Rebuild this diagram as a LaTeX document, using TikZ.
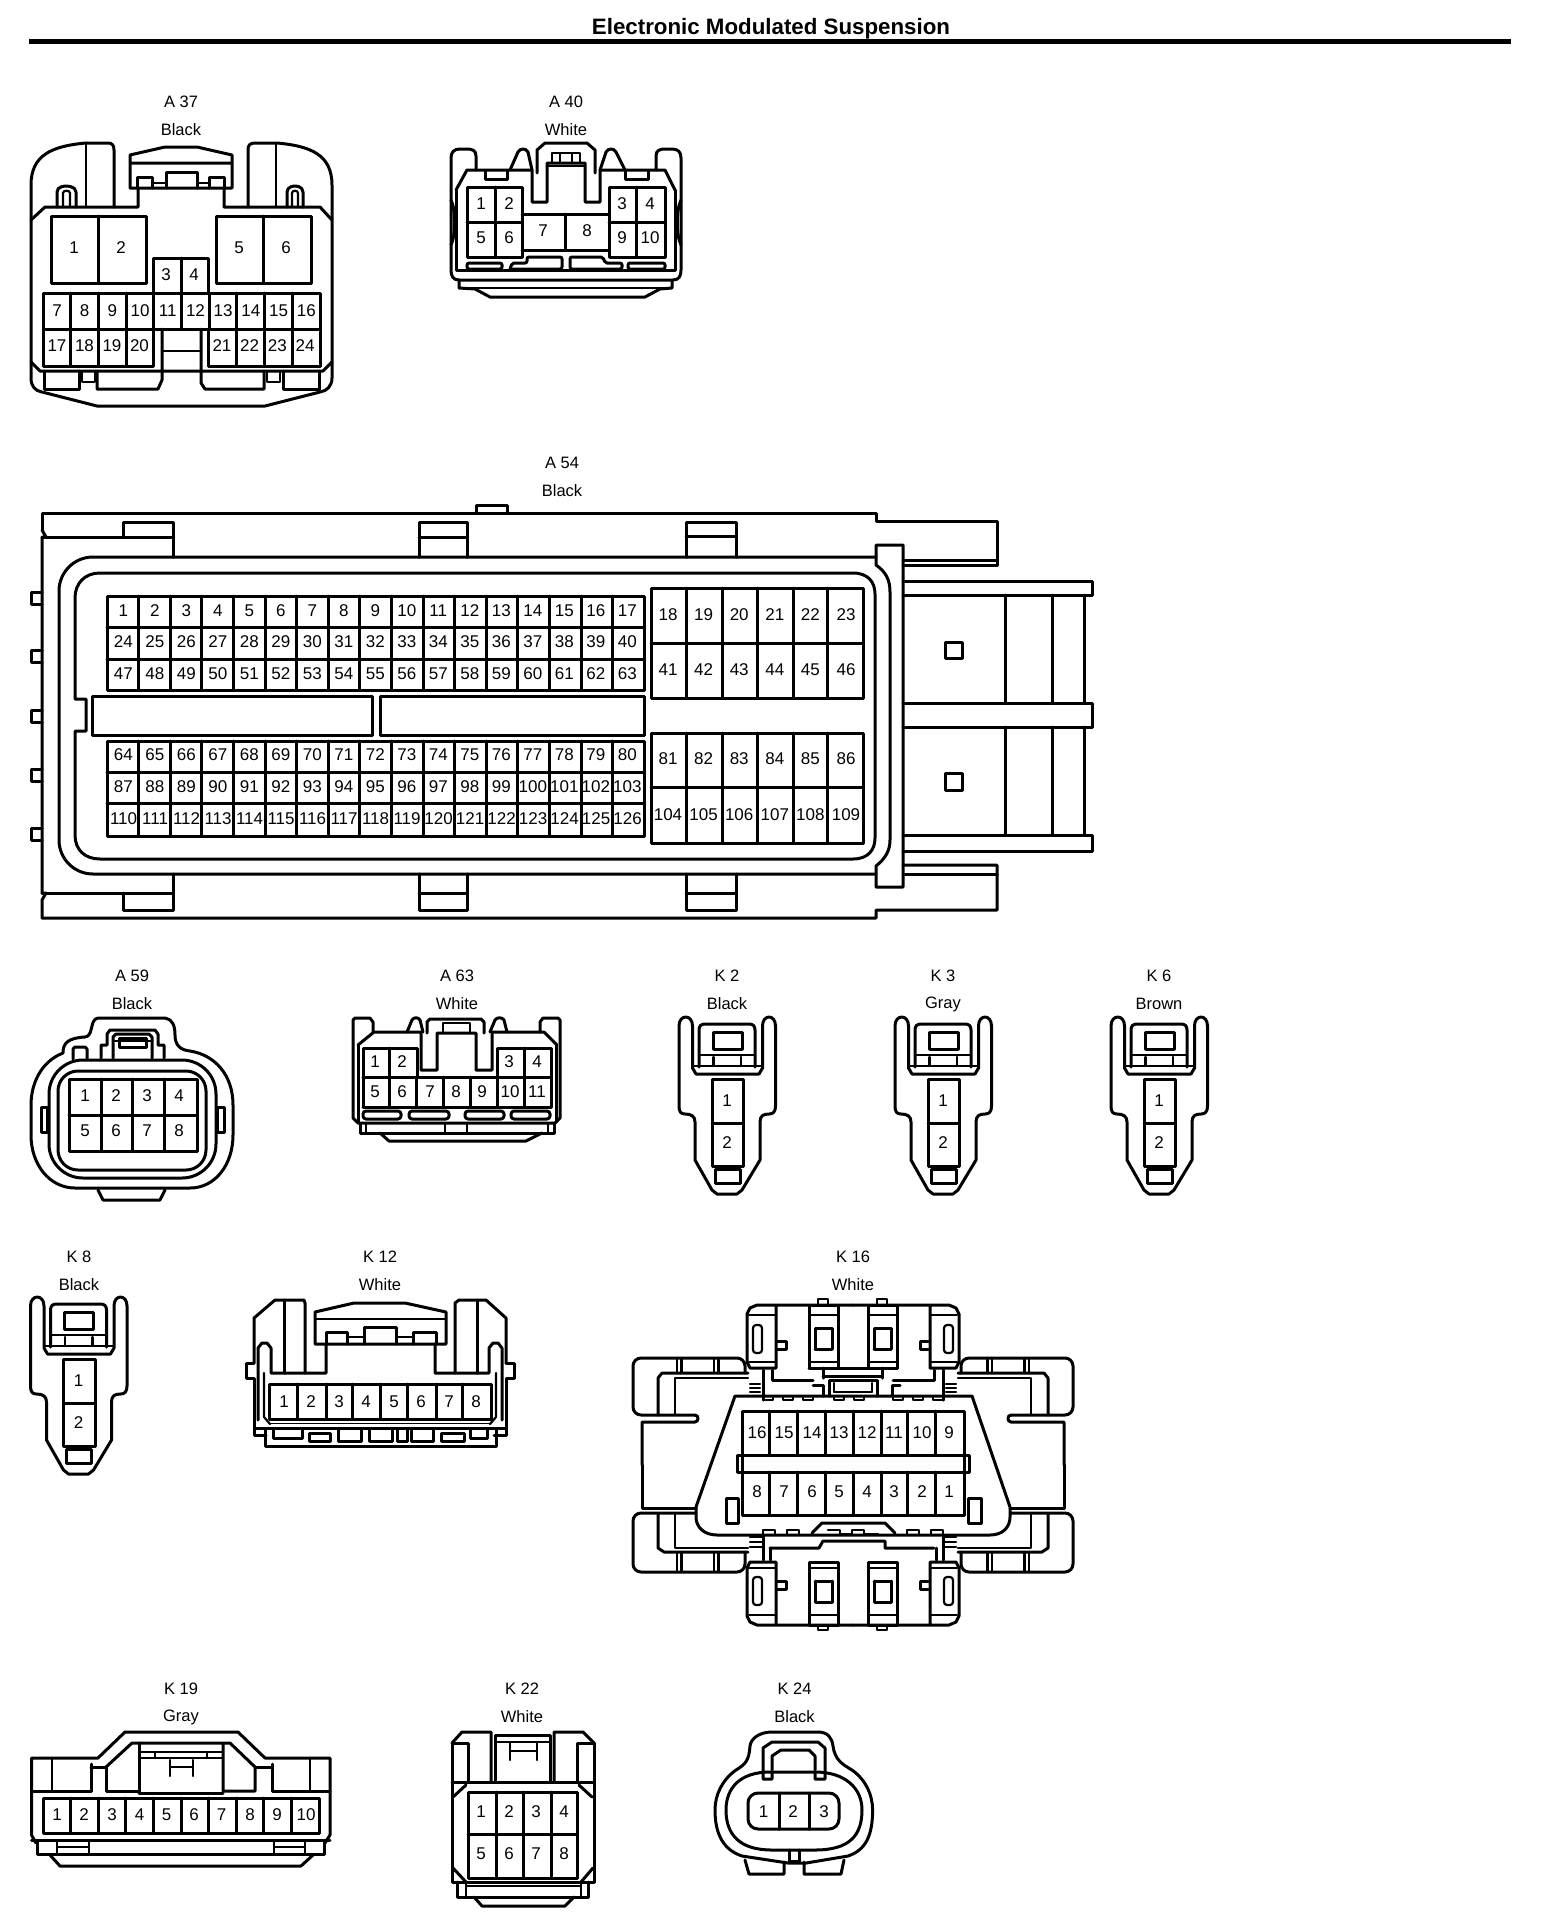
\documentclass[tikz,border=0pt]{standalone}
\usepackage{fontspec}
\setmainfont{Liberation Sans}
\newcount\lblc
\tikzset{
  pintxt/.style={inner sep=0pt,font=\fontsize{17}{17}\selectfont},
  captxt/.style={inner sep=0pt,font=\fontsize{16.5}{17}\selectfont},
  titletxt/.style={inner sep=0pt,font=\fontsize{22.3}{24}\selectfont\bfseries},
  thinln/.style={line width=2.2pt},
  hairln/.style={line width=1.5pt},
  fat/.style={line width=5pt}
}
\newcommand{\PP}[3]{\node[pintxt] (p\the\lblc) at (#1,#2) {#3};\global\advance\lblc by 1 }
\newcommand{\CAP}[4]{\node[captxt] (c\the\lblc) at (#1,#2) {#3};\global\advance\lblc by 1
  \node[captxt] (c\the\lblc) at (#1,#2+28) {#4};\global\advance\lblc by 1 }
\newcommand{\twopin}{%
  \draw (-48,1026) .. controls (-48,1014) and (-34.5,1014) .. (-34.5,1026) -- (-34.5,1068) -- (-31,1074) -- (32,1074) -- (35.5,1068) -- (35.5,1026)
     .. controls (35.5,1014) and (48.5,1014) .. (48.5,1026) -- (48.5,1106) .. controls (48.5,1112) and (46,1114) .. (42,1114)
     .. controls (36,1114) and (33,1116) .. (33,1122) -- (33,1160) -- (15,1190) -- (10,1194) -- (-10,1194) -- (-15,1190) -- (-32,1160) -- (-32,1122)
     .. controls (-32,1116) and (-36,1114) .. (-42,1114) .. controls (-46,1114) and (-48,1112) .. (-48,1106) -- cycle;
  \draw (-28,1067) -- (-28,1030) .. controls (-28,1026) and (-26,1024) .. (-22,1024) -- (22,1024) .. controls (26,1024) and (28,1026) .. (28,1030) -- (28,1067);
  \draw (-14,1032) rectangle (15,1049);
  \draw[thinln] (-28,1055) -- (28,1055) (-34,1066) -- (35,1066) (-13.5,1057) -- (-13.5,1065) (14,1057) -- (14,1065);
  \draw (-15,1079) rectangle (16.5,1166) (-15,1123) -- (16.5,1123);
  \draw (-12,1169) rectangle (13,1183);
  \PP{0}{1101}{1}\PP{0}{1143}{2}
}
\newcommand{\khalf}{%
  \draw (853,1305) -- (757,1305) -- (750,1308) -- (747,1314) -- (747,1362) -- (750,1368) -- (776,1368) -- (776,1305);
  \draw[thinln] (749,1315) -- (776,1315) (749,1362) -- (776,1362);
  \draw[thinln,rounded corners=3pt] (753,1325) rectangle (762,1353);
  \draw (777,1341) -- (786,1341) -- (786,1349) -- (777,1349);
  \draw (809,1305) rectangle (838,1368);
  \draw[thinln] (809,1315) -- (838,1315) (809,1362) -- (838,1362);
  \draw (815,1349) -- (815,1328) -- (832,1328) -- (832,1349) (815,1349) -- (832,1349);
}
\newcommand{\kwing}{%
  \draw[rounded corners=8pt] (745,1373) -- (745,1358) -- (633,1358) -- (633,1415) -- (695,1415);
  \draw (695,1415) .. controls (699,1415) and (699,1422) .. (695,1422) -- (642,1422) -- (642,1465);
  \draw[thinln] (677,1358) -- (677,1373) (681.5,1358) -- (681.5,1373) (714,1358) -- (714,1373) (718.5,1358) -- (718.5,1373);
  \draw (658,1415) -- (658,1378) -- (662,1373) -- (748,1373);
  \draw[thinln] (675,1415) -- (675,1378) -- (748,1378);
  \draw[thinln] (750,1384) -- (760,1384) (750,1388) -- (760,1388) (750,1392) -- (760,1392) (750,1396) -- (760,1396);
  \draw (763,1370) -- (763,1400);
  \draw (772,1370) -- (772,1380) -- (813,1380);
}
\begin{document}
\begin{tikzpicture}[x=1pt,y=-1pt,line width=3pt,line join=round,line cap=round]
\useasboundingbox (0,0) rectangle (1568,1920);
\fill[white] (0,0) rectangle (1568,1920);
% title
\node[titletxt] (title) at (780.5,29) {\hspace{-19pt}Electronic Modulated Suspension};
\draw[fat,line cap=butt] (29,41.5) -- (1511,41.5);

% ---------- A37
\CAP{181}{102}{A 37}{Black}
\draw (86,143) .. controls (52,146) and (31,155) .. (31,185) -- (31,378) .. controls (31,386) and (35,391) .. (42,392) -- (97,406) -- (265,406) -- (320,392) .. controls (327,391) and (332,386) .. (332,378) -- (332,185) .. controls (332,155) and (311,146) .. (277,143) -- (255,143) .. controls (250,143) and (248,145) .. (248,150) -- (248,207);
\draw (86,143) -- (108,143) .. controls (112,143) and (114,145) .. (114,150) -- (114,207);
\draw[thinln] (86,143) -- (86,207) (276,143) -- (276,207);
\draw (31,220) -- (45,207) -- (138,207) -- (138,188);
\draw (224,188) -- (224,207) -- (320,207) -- (332,220);
\draw (57,207) -- (57,192) .. controls (57,186) and (66,186) .. (66,186) .. controls (66,186) and (76,186) .. (76,192) -- (76,207);
\draw[thinln] (63,207) -- (63,193) .. controls (63,190) and (70,190) .. (70,193) -- (70,207);
\draw (287,207) -- (287,192) .. controls (287,186) and (295,186) .. (295,186) .. controls (295,186) and (303,186) .. (303,192) -- (303,207);
\draw[thinln] (292,207) -- (292,193) .. controls (292,190) and (298,190) .. (298,193) -- (298,207);
\draw (130,155) -- (165,147) -- (197,147) -- (232,155) -- (232,188) -- (130,188) -- cycle (130,163) -- (232,163);
\draw (137,188) -- (137,177) -- (152,177) -- (152,188) (209,188) -- (209,177) -- (224,177) -- (224,188);
\draw (166,188) -- (166,172) -- (197,172) -- (197,188);
\draw[thinln] (152,183) -- (166,183) (197,183) -- (209,183);
\draw (51,216) rectangle (146,283) (98,216) -- (98,283);
\draw (216,216) rectangle (311,283) (263,216) -- (263,283);
\draw (153,293) -- (153,258) -- (208,258) -- (208,293) (181,258) -- (181,293);
\PP{74}{248}{1}\PP{121}{248}{2}\PP{239}{248}{5}\PP{286}{248}{6}\PP{166}{275}{3}\PP{194}{275}{4}
\draw (43,293) rectangle (320,329);
\foreach \i in {1,...,9}{\draw (43+27.7*\i,293) -- (43+27.7*\i,329);}
\foreach \n [count=\i from 0] in {7,...,16}{\PP{57+27.7*\i}{311}{\n}}
\draw (43,329) -- (43,366) -- (153,366) -- (153,329);
\draw (208,329) -- (208,366) -- (320,366) -- (320,329);
\foreach \i in {1,2,3}{\draw (43+27.7*\i,329) -- (43+27.7*\i,366); \draw (208+28*\i,329) -- (208+28*\i,366);}
\foreach \n [count=\i from 0] in {17,18,19,20}{\PP{57+27.5*\i}{346}{\n}}
\foreach \n [count=\i from 0] in {21,22,23,24}{\PP{222+27.7*\i}{346}{\n}}
\draw (162,329) -- (162,380) -- (158,389) -- (97,389) -- (97,371);
\draw (201,329) -- (201,383) -- (205,389) -- (264,389) -- (264,371);
\draw[thinln] (162,351) -- (201,351);
\draw (31,362) -- (40,371) -- (323,371) -- (332,362);
\draw (44,371) -- (44,389) -- (79,389) -- (79,371) (319,371) -- (319,389) -- (283,389) -- (283,371);
\draw[thinln] (82,371) -- (82,382) -- (95,382) -- (95,371) (267,371) -- (267,382) -- (280,382) -- (280,371);

% ---------- A40
\CAP{566}{102}{A 40}{White}
\draw (476,170) -- (476,156) .. controls (476,150) and (472,149) .. (466,149) -- (460,149) .. controls (454,149) and (451,152) .. (451,158) -- (451,270) .. controls (451,276) and (453,280) .. (459,280) -- (673,280) .. controls (679,280) and (681,276) .. (681,270) -- (681,158) .. controls (681,152) and (678,149) .. (672,149) -- (666,149) .. controls (660,149) and (656,150) .. (656,156) -- (656,170);
\draw (459,280) -- (459,288) -- (475,289) -- (490,297) -- (645,297) -- (660,289) -- (672,288) -- (672,280);
\draw[thinln] (459,288) -- (672,288);
\draw (537,173) -- (537,150) -- (545,143) -- (587,143) -- (595,150) -- (595,173);
\draw (510,170) -- (518,152) .. controls (520,148) and (526,148) .. (528,152) -- (532,170);
\draw (600,170) -- (606,152) .. controls (608,148) and (614,148) .. (616,152) -- (625,170);
\draw (456,190) -- (467,170) -- (532,170) -- (532,202) -- (547,202) -- (547,163) -- (585,163) -- (585,202) -- (600,202) -- (600,170) -- (665,170) -- (675,190);
\draw (456,190) -- (456,270) -- (675,270) -- (675,190);
\draw[thinln] (552,163) -- (552,153) -- (580,153) -- (580,163) (560,153) -- (560,163) (572,153) -- (572,163) (547,166) -- (585,166);
\draw (485,171) -- (485,179) -- (507,179) -- (507,171) (625,171) -- (625,179) -- (648,179) -- (648,171);
\draw (451,200) .. controls (456,210) and (456,235) .. (451,245) (681,200) .. controls (676,210) and (676,235) .. (681,245);
\draw (467,187) rectangle (522,257) (495,187) -- (495,257) (467,222) -- (522,222);
\draw (522,214) -- (609,214) (522,250) -- (609,250) (565,214) -- (565,250);
\draw (609,187) rectangle (665,257) (636,187) -- (636,257) (609,222) -- (665,222);
\PP{481}{204}{1}\PP{509}{204}{2}\PP{622}{204}{3}\PP{650}{204}{4}
\PP{481}{238}{5}\PP{509}{238}{6}\PP{543}{231}{7}\PP{587}{231}{8}\PP{622}{238}{9}\PP{650}{238}{10}
\draw[rounded corners=2pt] (467,263) rectangle (502,269);
\draw[rounded corners=2pt] (628,263) rectangle (665,269);
\draw[rounded corners=2pt] (510,269) -- (555,269) -- (562,269) -- (562,257) -- (527,257) -- (527,263) -- (512,263) -- (510,269);
\draw[rounded corners=2pt] (570,257) -- (570,269) -- (622,269) -- (622,263) -- (605,263) -- (603,257) -- cycle;

% ---------- A54
\CAP{562}{463}{A 54}{Black}
\draw (476,513) -- (476,505) -- (507,505) -- (507,513);
\draw (42,530) -- (42,513) -- (876,513) -- (876,521) -- (997,521) -- (997,565) -- (903,565);
\draw (903,560) -- (997,560);
\draw (42,530) -- (46,537) -- (42,537) -- (42,893) -- (46,893) -- (42,900) -- (42,918) -- (876,918) -- (876,910) -- (997,910) -- (997,865) -- (903,865);
\draw (903,874) -- (997,874);
\draw (42,537) -- (172,537) (42,893) -- (172,893);
\draw (123,537) -- (123,522) -- (173,522) -- (173,557);
\draw (419,557) -- (419,522) -- (467,522) -- (467,557) (419,537) -- (467,537);
\draw (686,557) -- (686,522) -- (736,522) -- (736,557) (686,536) -- (736,536);
\draw (123,893) -- (123,910) -- (173,910) -- (173,874);
\draw (419,874) -- (419,910) -- (467,910) -- (467,874) (419,893) -- (467,893);
\draw (686,874) -- (686,910) -- (736,910) -- (736,874) (686,893) -- (736,893);
\draw[rounded corners=34pt] (876,557) -- (59,557) -- (59,874) -- (876,874);
\draw (876,545) -- (876,565) .. controls (886,572) and (890,580) .. (890,592) -- (890,840) .. controls (890,850) and (886,858) .. (876,866) -- (876,887) -- (903,887) -- (903,545) -- cycle;
\draw (853,573) -- (100,573) .. controls (85,573) and (75,583) .. (75,598) -- (75,699) -- (86,699) -- (86,731) -- (75,731) -- (75,835) .. controls (75,850) and (85,859) .. (100,859) -- (853,859) .. controls (868,859) and (875,850) .. (875,838) -- (875,594) .. controls (875,582) and (868,573) .. (853,573) -- cycle;
\foreach \a in {592,650,710,769,828}{\draw (42,\a) -- (31,\a) -- (31,\a+12) -- (42,\a+12);}
\draw (92,696) rectangle (372,735) (380,696) rectangle (644,735);
\draw (107,596) rectangle (644,690) (107,627) -- (644,627) (107,659) -- (644,659);
\draw (107,741) rectangle (644,836) (107,772) -- (644,772) (107,803) -- (644,803);
\foreach \i in {1,...,16}{\draw (107+31.6*\i,596) -- (107+31.6*\i,690) (107+31.6*\i,741) -- (107+31.6*\i,836);}
\foreach \n [count=\i from 0] in {1,...,17}{\PP{123.3+31.5*\i}{611}{\n}}
\foreach \n [count=\i from 0] in {24,...,40}{\PP{123.3+31.5*\i}{642}{\n}}
\foreach \n [count=\i from 0] in {47,...,63}{\PP{123.3+31.5*\i}{674}{\n}}
\foreach \n [count=\i from 0] in {64,...,80}{\PP{123.3+31.5*\i}{755}{\n}}
\foreach \n [count=\i from 0] in {87,...,103}{\PP{123.3+31.5*\i}{787}{\n}}
\foreach \n [count=\i from 0] in {110,...,126}{\PP{123.6+31.5*\i}{819}{\n}}
\draw (651,588) rectangle (863,698) (651,643) -- (863,643);
\draw (651,733) rectangle (863,843) (651,787) -- (863,787);
\foreach \a in {686,722,757,793,827}{\draw (\a,588) -- (\a,698) (\a,733) -- (\a,843);}
\foreach \n [count=\i from 0] in {18,...,23}{\PP{668+35.6*\i}{615}{\n}}
\foreach \n [count=\i from 0] in {41,...,46}{\PP{668+35.6*\i}{670}{\n}}
\foreach \n [count=\i from 0] in {81,...,86}{\PP{668+35.6*\i}{759}{\n}}
\foreach \n [count=\i from 0] in {104,...,109}{\PP{668+35.6*\i}{815}{\n}}
\draw (903,581) -- (1092,581) -- (1092,595) -- (903,595);
\draw (903,703) -- (1092,703) -- (1092,727) -- (903,727);
\draw (903,835) -- (1092,835) -- (1092,851) -- (903,851);
\draw (1005,595) -- (1005,703) (1005,727) -- (1005,835);
\draw (1052,595) -- (1052,703) (1052,727) -- (1052,835);
\draw (1084,595) -- (1084,703) (1084,727) -- (1084,835);
\draw (945,642) rectangle (962,658) (945,773) rectangle (962,790);

% ---------- A59
\CAP{132}{976}{A 59}{Black}
\draw (99,1018) -- (165,1018) .. controls (172,1019) and (175,1025) .. (175,1035) .. controls (175,1045) and (180,1050) .. (190,1051) .. controls (215,1055) and (233,1075) .. (233,1105) -- (233,1135) .. controls (233,1165) and (215,1188) .. (190,1188) -- (75,1188) .. controls (50,1188) and (31,1165) .. (31,1135) -- (31,1105) .. controls (31,1085) and (40,1062) .. (63,1053) .. controls (63,1043) and (68,1038) .. (85,1037) .. controls (90,1037) and (91,1030) .. (92,1026) .. controls (93,1020) and (96,1018) .. (99,1018) -- cycle;
\draw[rounded corners=34pt] (49,1060) rectangle (216,1178);
\draw[rounded corners=20pt] (58,1071) rectangle (206,1170);
\draw (69,1079) rectangle (197,1151) (69,1115) -- (197,1115) (101,1079) -- (101,1151) (132,1079) -- (132,1151) (164,1079) -- (164,1151);
\draw (41,1107) rectangle (47,1132) (217,1107) rectangle (224,1132);
\draw (98,1190) -- (103,1200) -- (160,1200) -- (165,1190);
\draw (101,1058) -- (101,1045) -- (107,1045) -- (107,1034) -- (110,1030) -- (155,1030) -- (158,1034) -- (158,1045) -- (164,1045) -- (164,1058);
\draw (113,1058) -- (113,1037) -- (116,1034) -- (149,1034) -- (152,1037) -- (152,1058);
\draw (119,1038) rectangle (146,1047);
\draw[thinln] (113,1041) -- (152,1041);
\draw (73,1059) -- (73,1049) -- (75,1047) -- (85,1047) -- (87,1049) -- (87,1059);
\PP{85}{1096}{1}\PP{116}{1096}{2}\PP{147}{1096}{3}\PP{179}{1096}{4}
\PP{85}{1131}{5}\PP{116}{1131}{6}\PP{147}{1131}{7}\PP{179}{1131}{8}

% ---------- A63
\CAP{457}{976}{A 63}{White}
\draw (353,1020) -- (355,1018) -- (370,1018) -- (373,1022) -- (373,1032);
\draw (353,1020) -- (353,1118) -- (358,1123) -- (555,1123) -- (560,1118) -- (560,1020) -- (558,1018) -- (543,1018) -- (540,1022) -- (540,1032);
\draw (358,1045) -- (374,1032) -- (421,1032) -- (421,1070) -- (437,1070) -- (437,1033) -- (476,1033) -- (476,1070) -- (492,1070) -- (492,1032) -- (544,1032) -- (557,1045);
\draw (358,1045) -- (358,1122) (556,1045) -- (556,1122);
\draw (427,1033) -- (427,1022) -- (430,1019) -- (481,1019) -- (484,1022) -- (484,1033);
\draw[thinln] (443,1033) -- (443,1023) -- (470,1023) -- (470,1033);
\draw (407,1032) -- (412,1020) .. controls (414,1017) and (418,1017) .. (420,1020) -- (423,1032);
\draw (490,1032) -- (495,1020) .. controls (497,1017) and (502,1017) .. (504,1020) -- (507,1032);
\draw (363,1107) -- (363,1048) -- (417,1048) -- (417,1077);
\draw (497,1077) -- (497,1048) -- (551,1048) -- (551,1107) -- (363,1107);
\draw (363,1077) -- (551,1077);
\foreach \a in {389.5,524}{\draw (\a,1048) -- (\a,1107);}
\foreach \a in {416,443.6,470,497}{\draw (\a,1077) -- (\a,1107);}
\PP{375}{1062}{1}\PP{402}{1062}{2}\PP{509}{1062}{3}\PP{537}{1062}{4}
\foreach \n/\a in {5/375,6/402,7/430,8/456,9/482,10/510,11/537}{\PP{\a}{1092}{\n}}
\draw[rounded corners=3pt] (363,1111) rectangle (401,1119) (409,1111) rectangle (449,1119) (465,1111) rectangle (504,1119) (511,1111) rectangle (550,1119);
\draw (360,1124) -- (360,1133) -- (554,1133) -- (554,1124);
\draw[thinln] (366,1124) -- (366,1133) (548,1124) -- (548,1133) (445,1124) -- (445,1133) (467,1124) -- (467,1133);
\draw (380,1133) -- (389,1141) -- (526,1141) -- (542,1133);

% ---------- K2 K3 K6
\CAP{727}{976}{K 2}{Black}
\CAP{943}{976}{K 3}{Gray}
\CAP{1159}{976}{K 6}{Brown}
\begin{scope}[shift={(727,0)}]\twopin\end{scope}
\begin{scope}[shift={(943,0)}]\twopin\end{scope}
\begin{scope}[shift={(1159,0)}]\twopin\end{scope}
% ---------- K8
\CAP{79}{1257}{K 8}{Black}
\begin{scope}[shift={(78.5,280)}]\twopin\end{scope}

% ---------- K12
\CAP{380}{1257}{K 12}{White}
\draw (284,1373) -- (284,1300);
\draw (254,1363) -- (254,1318) -- (275,1300) -- (304,1300) -- (305,1303) -- (305,1373) -- (326,1373) -- (326,1344);
\draw (435,1344) -- (435,1373) -- (455,1373) -- (455,1303) -- (459,1300) -- (486,1300) -- (506,1318) -- (506,1363);
\draw (477,1300) -- (477,1373);
\draw (315,1312) -- (354,1303) -- (405,1303) -- (446,1312) -- (446,1344) -- (315,1344) -- cycle;
\draw[thinln] (315,1319) -- (446,1319);
\draw (326,1344) -- (326,1332) -- (347,1332) -- (347,1344) (364,1344) -- (364,1327) -- (396,1327) -- (396,1344) (413,1344) -- (413,1332) -- (436,1332) -- (436,1344);
\draw[thinln] (347,1337) -- (364,1337) (396,1337) -- (413,1337);
\draw (254,1363) -- (246,1363) -- (246,1378) -- (254,1378) -- (254,1435) -- (266,1435);
\draw (506,1363) -- (514,1363) -- (514,1378) -- (506,1378) -- (506,1435) -- (494,1435);
\draw (258,1420) -- (258,1348) -- (262,1343) -- (267,1343) -- (271,1348) -- (271,1373) -- (305,1373);
\draw (489,1373) -- (455,1373) (489,1373) -- (489,1348) -- (493,1343) -- (498,1343) -- (502,1348) -- (502,1420);
\draw[thinln] (264,1373) -- (264,1417) -- (270,1424) (496,1373) -- (496,1417) -- (490,1424);
\draw (269,1384) rectangle (491,1419);
\foreach \a in {297,326,352.5,380,407,436,462.5}{\draw (\a,1384) -- (\a,1419);}
\foreach \n/\a in {1/284,2/311,3/339,4/366,5/394,6/421,7/449,8/476}{\PP{\a}{1402}{\n}}
\draw[hairln] (269,1423.5) -- (491,1423.5);
\draw[thinln] (254,1428.5) -- (506,1428.5);
\draw (265,1429) -- (265,1446) -- (496,1446) -- (496,1429);
\draw (273,1429) -- (273,1438) -- (302,1438) -- (302,1429) (470,1429) -- (470,1438) -- (487,1438) -- (487,1429);
\draw (338,1429) -- (338,1441) -- (361,1441) -- (361,1429) (369,1429) -- (369,1441) -- (392,1441) -- (392,1429) (397,1429) -- (397,1441) -- (407,1441) -- (407,1429) (411,1429) -- (411,1441) -- (433,1441) -- (433,1429);
\draw (309,1433) rectangle (330,1441) (441,1433) rectangle (464,1441);

% ---------- K16
\CAP{853}{1257}{K 16}{White}
\khalf
\begin{scope}[xshift=1706pt,xscale=-1]\khalf\end{scope}
\begin{scope}[yshift=-2930pt,yscale=-1]\khalf\end{scope}
\begin{scope}[xshift=1706pt,xscale=-1,yshift=-2930pt,yscale=-1]\khalf\end{scope}
\draw (809,1368) -- (897,1368);
\draw[thinln] (818,1305) -- (818,1299) -- (828,1299) -- (828,1305) (877,1305) -- (877,1299) -- (887,1299) -- (887,1305);
\draw[thinln] (818,1625) -- (818,1630) -- (828,1630) -- (828,1625) (877,1625) -- (877,1630) -- (887,1630) -- (887,1625);
\kwing
\begin{scope}[xshift=1706pt,xscale=-1]\kwing\end{scope}
\draw (717,1535) -- (990,1535) .. controls (1003,1535) and (1010,1527) .. (1010,1517) -- (1010,1507) -- (972,1396) -- (735,1396) -- (696,1507) -- (696,1517) .. controls (696,1527) and (704,1535) .. (717,1535) -- cycle;
\draw (742,1411) rectangle (964,1515);
\draw (737,1455) rectangle (969,1472);
\foreach \a in {769,797,825,853,881,907,935}{\draw (\a,1411) -- (\a,1455) (\a,1472) -- (\a,1515);}
\foreach \n/\a in {16/757,15/784,14/812,13/839,12/867,11/894,10/922,9/949}{\PP{\a}{1433}{\n}}
\foreach \n/\a in {8/757,7/784,6/812,5/839,4/867,3/894,2/922,1/949}{\PP{\a}{1492}{\n}}
\draw (726,1498) rectangle (738,1523) (968,1498) rectangle (981,1523);
\draw[thinln] (763,1396) -- (763,1400) -- (773,1400) -- (773,1396) -- (783,1396) -- (783,1400) -- (793,1400) -- (793,1396) -- (803,1396) -- (803,1400) -- (813,1400) -- (813,1396);
\draw[thinln] (893,1396) -- (893,1400) -- (903,1400) -- (903,1396) -- (913,1396) -- (913,1400) -- (923,1400) -- (923,1396) -- (933,1396) -- (933,1400) -- (943,1400) -- (943,1396);
\draw (823,1368) -- (823,1378) (882,1368) -- (882,1378) (823,1376) -- (882,1376);
\draw (813,1385) -- (823,1385) -- (823,1396) (892,1396) -- (892,1385) -- (900,1385);
\draw (829,1396) -- (829,1380) -- (877,1380) -- (877,1396);
\draw[thinln] (834,1392) -- (834,1383) (872,1392) -- (872,1383) (834,1392) -- (872,1392);
\draw[thinln] (834,1396) -- (834,1400) -- (844,1400) -- (844,1396) -- (854,1396) -- (854,1400) -- (864,1400) -- (864,1396) -- (874,1396);
% lower middle
\draw (812,1533) -- (822,1523) -- (885,1523) -- (895,1533);
\draw[thinln] (763,1535) -- (763,1530) -- (775,1530) -- (775,1535) -- (787,1535) -- (787,1530) -- (799,1530) -- (799,1535) -- (812,1535);
\draw[thinln] (895,1535) -- (907,1535) -- (907,1530) -- (919,1530) -- (919,1535) -- (931,1535) -- (931,1530) -- (943,1530) -- (943,1535);
\draw[thinln] (828,1530) -- (840,1530) -- (840,1534) -- (852,1534) -- (852,1530) -- (864,1530) -- (864,1534) -- (878,1534);
\draw (770,1548) -- (819,1548) -- (823,1541) -- (885,1541) -- (885,1548) -- (934,1548);
% lower wings
\draw[rounded corners=8pt] (745,1552) -- (745,1572) -- (633,1572) -- (633,1513) -- (695,1513);
\draw (642,1465) -- (642,1508) -- (696,1508) (1064,1465) -- (1064,1508) -- (1010,1508);
\draw[rounded corners=8pt] (961,1552) -- (961,1572) -- (1073,1572) -- (1073,1513) -- (1011,1513);
\foreach \a in {677,681.5,714,718.5,987.5,992,1024.5,1029}{\draw[thinln] (\a,1572) -- (\a,1552);}
\draw (658,1514) -- (658,1548) -- (664,1552) -- (748,1552) (1048,1514) -- (1048,1548) -- (1042,1552) -- (958,1552);
\draw[thinln] (675,1514) -- (675,1548) -- (748,1548) (1031,1514) -- (1031,1548) -- (958,1548);
\draw[thinln] (750,1537) -- (763,1537) (750,1542) -- (763,1542) (750,1547) -- (763,1547) (943,1537) -- (956,1537) (943,1542) -- (956,1542) (943,1547) -- (956,1547);
\draw (763,1536) -- (763,1560) (770,1548) -- (770,1560) (943,1536) -- (943,1560) (936,1548) -- (936,1560);

% ---------- K19
\CAP{181}{1689}{K 19}{Gray}
\draw (36,1843) -- (31.5,1835) -- (31.5,1758) -- (98,1758) -- (125,1732) -- (238,1732) -- (265,1758) -- (330,1758) -- (330,1835) -- (325,1843);
\draw (31.5,1791) -- (91,1791) -- (91,1764);
\draw[thinln] (52,1758) -- (52,1791) (310,1758) -- (310,1791);
\draw (91,1767) -- (106,1767) -- (106,1791) -- (139,1791) -- (139,1743);
\draw (106,1767) -- (132,1743) -- (230,1743) -- (255,1767) -- (255,1791) -- (223,1791) -- (223,1743);
\draw (255,1767) -- (272,1767) (272,1764) -- (272,1791) -- (330,1791);
\draw[thinln] (139,1752) -- (223,1752) (139,1758) -- (223,1758) (155,1752) -- (155,1758) (207,1752) -- (207,1758);
\draw[thinln] (170,1760) -- (170,1776) (193,1760) -- (193,1776) (170,1767) -- (193,1767);
\draw (139,1793) -- (223,1793);
\draw (43,1798) rectangle (319,1833);
\foreach \i in {1,...,9}{\draw (43+27.6*\i,1798) -- (43+27.6*\i,1833);}
\foreach \n/\a in {1/57,2/84,3/112,4/139.5,5/166.5,6/194,7/221.6,8/250,9/277,10/306}{\PP{\a}{1815}{\n}}
\draw (31.5,1840) -- (330,1840);
\draw (37,1842) -- (37,1854) -- (324,1854) -- (324,1842);
\draw[thinln] (57,1842) -- (57,1853) (89,1842) -- (89,1853) (57,1847) -- (89,1847) (274,1842) -- (274,1853) (305,1842) -- (305,1853) (274,1847) -- (305,1847);
\draw (50,1855) -- (60,1866) -- (301,1866) -- (313,1855);

% ---------- K22
\CAP{522}{1689}{K 22}{White}
\draw (452,1743) -- (462,1732) -- (491,1732) -- (491,1782);
\draw (554,1782) -- (554,1732) -- (583,1732) -- (594,1743);
\draw (452,1743) -- (452,1882) -- (594,1882) -- (594,1743);
\draw (452,1743) -- (468,1743) -- (468,1782) (594,1743) -- (577,1743) -- (577,1782);
\draw (452,1782) -- (594,1782);
\draw (495,1782) -- (495,1735) -- (550,1735) -- (550,1782);
\draw[thinln] (495,1742) -- (550,1742) (510,1743) -- (510,1760) (537,1743) -- (537,1760) (510,1751) -- (537,1751);
\draw (453,1797) -- (466,1785) (592,1797) -- (579,1785);
\draw (468,1792) rectangle (577,1878) (468,1834) -- (577,1834);
\foreach \a in {496.5,523.5,551}{\draw (\a,1792) -- (\a,1878);}
\foreach \n/\a in {1/481,2/509,3/536,4/564}{\PP{\a}{1812}{\n}}
\foreach \n/\a in {5/481,6/509,7/536,8/564}{\PP{\a}{1854}{\n}}
\draw (453,1868) -- (466,1882) (593,1868) -- (581,1882);
\draw (457.5,1882) -- (457.5,1897) -- (588,1897) -- (588,1882);
\draw[thinln] (466,1882) -- (466,1897) (581,1882) -- (581,1897) (466,1886) -- (581,1886);
\draw (474,1897) -- (482,1906) -- (565,1906) -- (574,1897);

% ---------- K24
\CAP{794.5}{1689}{K 24}{Black}
\draw (772,1732) -- (818,1732) .. controls (828,1732) and (832,1738) .. (833,1746) .. controls (835,1760) and (842,1764) .. (852,1770) .. controls (866,1780) and (872.6,1795) .. (872.6,1810) .. controls (872.6,1835) and (866,1850) .. (848,1856) -- (806,1863) -- (788,1863) -- (742,1856) .. controls (724,1850) and (715,1835) .. (715,1810) .. controls (715,1795) and (722,1780) .. (736,1770) .. controls (746,1764) and (749,1760) .. (750,1746) .. controls (751,1738) and (760,1732) .. (772,1732) -- cycle;
\draw (770,1772) -- (815,1772) .. controls (845,1772) and (862,1788) .. (862,1810) .. controls (862,1835) and (850,1850) .. (815,1850) -- (772,1850) .. controls (740,1850) and (726,1835) .. (726,1810) .. controls (726,1788) and (740,1772) .. (770,1772) -- cycle;
\draw (763,1779) -- (763,1748) -- (772,1742) -- (818,1742) -- (825,1748) -- (825,1779) (763,1779) -- (772,1779) -- (772,1772) (825,1779) -- (815,1779) -- (815,1772);
\draw (772,1770) -- (772,1756) -- (781,1750) -- (809,1750) -- (815,1756) -- (815,1770);
\draw[rounded corners=10pt] (748,1793) rectangle (839,1829);
\draw (779.5,1793) -- (779.5,1829) (809.5,1793) -- (809.5,1829);
\PP{763.5}{1812}{1}\PP{793}{1812}{2}\PP{824}{1812}{3}
\draw (745,1860) -- (749,1874) -- (784,1874) -- (784,1862);
\draw (804,1862) -- (804,1874) -- (841,1874) -- (844,1860);
\draw (789,1850) -- (789,1861) -- (799,1861) -- (799,1850);
\end{tikzpicture}
\end{document}
